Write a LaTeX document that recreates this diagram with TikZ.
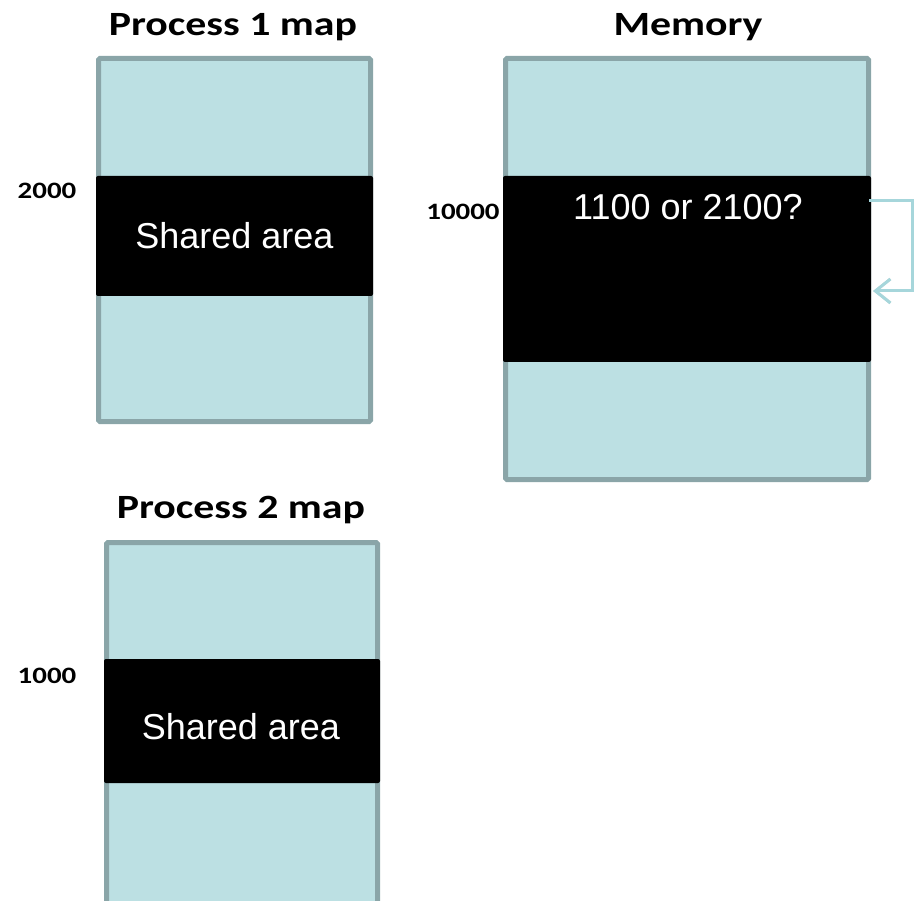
\documentclass[tikz,border=0pt]{standalone}
\usepackage{fontspec}
\setmainfont{Liberation Sans}
\newfontfamily\titlefont[FakeStretch=1.23]{Carlito}
\usetikzlibrary{arrows.meta}
\definecolor{cellfill}{HTML}{BCE0E3}
\definecolor{cellline}{HTML}{8AA5A8}
\definecolor{linkline}{HTML}{A6D6DB}
\tikzset{
  cell/.style={fill=cellfill, draw=cellline, line width=5pt, rounded corners=1.5pt},
  band/.style={fill=black, rounded corners=2pt},
  bandtext/.style={text=white, font=\fontsize{36}{40}\selectfont, inner sep=0pt},
  title/.style={font=\titlefont\bfseries\fontsize{34}{38}\selectfont, inner sep=0pt},
  addr/.style={font=\titlefont\bfseries\fontsize{23.5}{27}\selectfont, inner sep=0pt},
  link/.style={draw=linkline, line width=3pt},
  linkshadow/.style={draw=black, opacity=0.12, line width=3pt},
}
\begin{document}
\begin{tikzpicture}[x=1pt, y=-1pt]
\useasboundingbox (0,0) rectangle (916,901);
\begin{scope}
\clip (0,0) rectangle (916,901);

% Process 1 address map
\draw[cell] (98.5,58.5) rectangle (370.5,421.5);
\fill[band] (96,176) rectangle (373,296);
\node[bandtext] (p1shared) at (234.5,236) {Shared area};
\node[title] (p1title) at (233,27) {Process 1 map};
\node[addr] (p1addr) at (47,191) {2000};

% Physical memory
\draw[cell] (505.5,58.5) rectangle (868.5,479.5);
\fill[band] (503,176) rectangle (871,362);
\node[bandtext] (memtext) at (688,207) {1100 or 2100?};
\node[title] (memtitle) at (688,27) {Memory};
\node[addr] (memaddr) at (463,212) {10000};

% Process 2 address map
\draw[cell] (106.5,542.5) rectangle (377.5,940);
\fill[band] (104,659) rectangle (380,783);
\node[bandtext] (p2shared) at (241,727) {Shared area};
\node[title] (p2title) at (241,510) {Process 2 map};
\node[addr] (p2addr) at (47,676) {1000};

% Offset pointer inside the shared segment
\coordinate (linkfrom) at (869,200.5);
\coordinate (linkturn1) at (912.5,200.5);
\coordinate (linkturn2) at (912.5,291);
\coordinate (linkto) at (873,291);
\begin{scope}[shift={(1.5,2)}]
\draw[linkshadow, -{Straight Barb[length=15pt, width=24pt, line width=3pt]}]
  (linkfrom) -- (linkturn1) -- (linkturn2) -- (linkto);
\end{scope}
\draw[link, -{Straight Barb[length=15pt, width=24pt, line width=3pt]}]
  (linkfrom) -- (linkturn1) -- (linkturn2) -- (linkto);
\end{scope}
\end{tikzpicture}
\end{document}
